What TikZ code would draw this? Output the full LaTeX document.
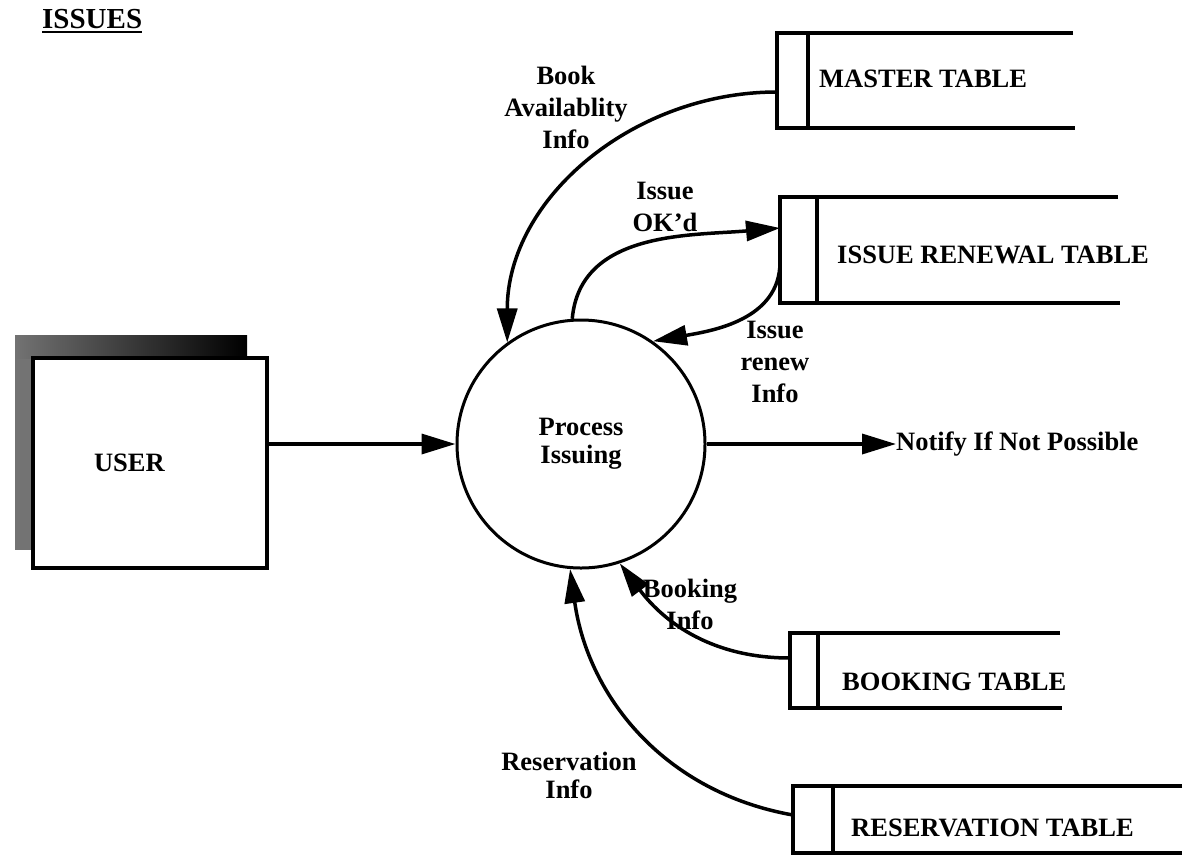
\documentclass[tikz,border=0pt]{standalone}
\usepackage{fontspec}
\setmainfont{Liberation Serif}
\usetikzlibrary{arrows.meta}
\tikzset{
    flow/.style={line width=3.5pt, ->},
    store/.style={line width=3.5pt},
    lbl/.style={font=\bfseries\fontsize{26.5}{32}\selectfont, inner sep=0pt, align=center},
}
\begin{document}
\begin{tikzpicture}[x=1pt, y=-1pt, >={Triangle[length=34pt,width=20pt]}]
    \useasboundingbox (0,0) rectangle (1185,857);
    \node[lbl, anchor=base west, font=\bfseries\fontsize{29}{32}\selectfont] (title) at (42,28) {ISSUES};
    \draw[line width=2.5pt] (title.base west) ++(0,4) -- ([yshift=-4pt]title.base east);

    \fill[black!55] (15,335) rectangle (247,550);
    \shade[left color=black!55, right color=black] (15,335) rectangle (247,358);
    \node[lbl, draw, line width=3.5pt, fill=white, minimum width=234pt, minimum height=210pt, text width=112pt, align=left] (user) at (150,463) {USER};

    \node[lbl, draw, circle, line width=3pt, minimum size=248pt, font=\bfseries\fontsize{26.5}{28}\selectfont] (proc) at (581,444) {Process\\Issuing};
    \node[lbl, anchor=west] (notify) at (896,444) {Notify If Not Possible};

    \draw[store] (1073,33) -- (777,33) -- (777,128) -- (1075,128);
    \draw[store] (808,33) -- (808,128);
    \node[lbl, anchor=west] (master) at (819,79) {MASTER TABLE};
    \coordinate (master-in) at (777,92);

    \draw[store] (1118,197) -- (780,197) -- (780,303) -- (1120,303);
    \draw[store] (817,197) -- (817,303);
    \node[lbl, anchor=west] (renew) at (837,255) {ISSUE RENEWAL TABLE};
    \coordinate (renew-a) at (780,228);
    \coordinate (renew-b) at (780,262);

    \draw[store] (1060,633) -- (790,633) -- (790,708) -- (1062,708);
    \draw[store] (818,633) -- (818,708);
    \node[lbl, anchor=west] (book) at (842,682) {BOOKING TABLE};
    \coordinate (book-in) at (790,658);

    \draw[store] (1182,786) -- (793,786) -- (793,853) -- (1182,853);
    \draw[store] (833,786) -- (833,853);
    \node[lbl, anchor=west] (res) at (851,828) {RESERVATION TABLE};
    \coordinate (res-in) at (793,815);

    \draw[flow] (user.east |- proc.west) -- (proc.west);
    \draw[flow] (proc.east) -- (notify.west);
    \draw[flow] (master-in) to[out=180, in=90] (proc.126);
    \draw[flow] (proc.94) to[out=85, in=185] (renew-a);
    \draw[flow] (renew-b) to[out=270, in=10] (proc.55);
    \draw[flow] (book-in) to[out=180, in=-53] (proc.-72);
    \draw[flow] (res-in) to[out=170, in=-82] (proc.-95);

    \node[lbl] (availinfo) at (566,107) {Book\\Availablity\\Info};
    \node[lbl] (okinfo) at (665,207) {Issue\\OK'd};
    \node[lbl] (renewinfo) at (775,362) {Issue\\renew\\Info};
    \node[lbl] (bookinfo) at (690,604) {Booking\\Info};
    \node[lbl, font=\bfseries\fontsize{26.5}{28}\selectfont] (resinfo) at (569,775) {Reservation\\Info};
\end{tikzpicture}
\end{document}
